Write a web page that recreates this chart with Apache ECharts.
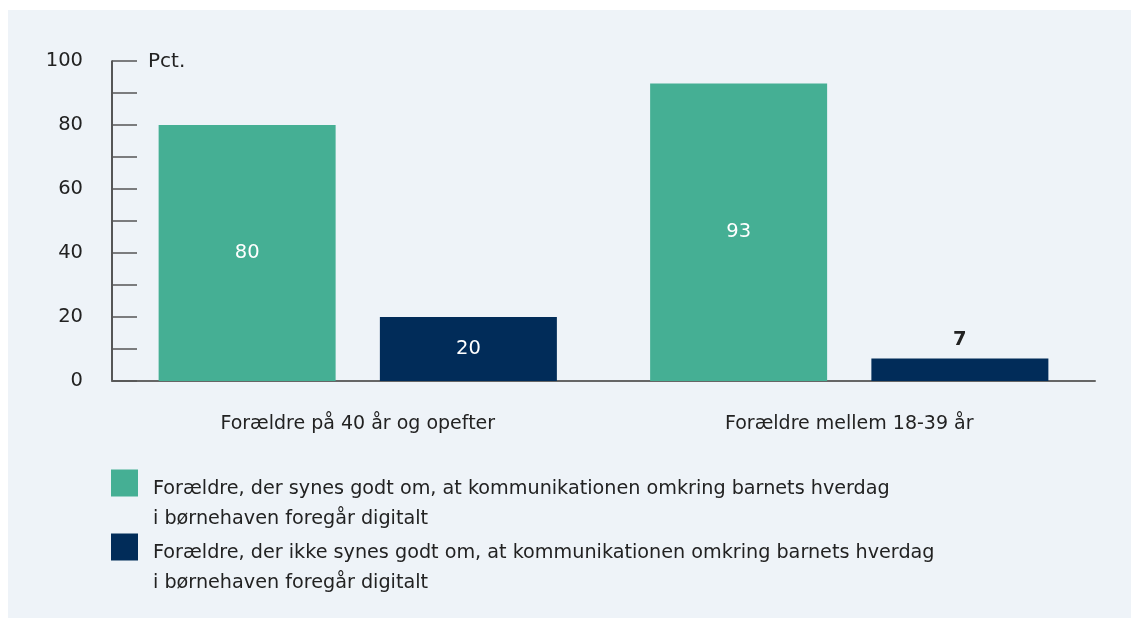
<!DOCTYPE html>
<html>
<head>
<meta charset="utf-8">
<script src="https://cdn.jsdelivr.net/npm/echarts@6/dist/echarts.min.js"></script>
<style>
  html, body { margin: 0; padding: 0; background: #ffffff; }
  #chart { position: absolute; left: 8px; top: 10px; width: 1123px; height: 608px; }
</style>
</head>
<body>
<div id="chart"></div>
<script>
const categories = ['Forældre på 40 år og opefter', 'Forældre mellem 18-39 år'];
const seriesNames = [
  'Forældre, der synes godt om, at kommunikationen omkring barnets hverdag\ni børnehaven foregår digitalt',
  'Forældre, der ikke synes godt om, at kommunikationen omkring barnets hverdag\ni børnehaven foregår digitalt'
];
const positiveValues = [80, 93];
const negativeValues = [20, 7];
const yTicks = [0, 20, 40, 60, 80, 100];

const FONT = 'DejaVu Sans';
const GREEN = '#45af94';
const NAVY = '#012c59';
const TEXT = '#222222';

let chart = echarts.init(document.getElementById('chart'));

// small bars get their label on top, in dark text
function barData(values) {
  return values.map(function (v) {
    if (v < 10) {
      return { value: v, label: { position: 'top', distance: 9, color: TEXT, fontWeight: 'bold' } };
    }
    return v;
  });
}

// legend text: an empty spacer line first so the square sits beside line one
function legendText(name) {
  return '{s| }\n' + name.split('\n').map(function (l) { return '{t|' + l + '}'; }).join('\n');
}

function legendFor(name, top) {
  return {
    data: [name],
    left: 103,
    top: top,
    padding: 0,
    orient: 'vertical',
    icon: 'rect',
    itemWidth: 27,
    itemHeight: 27,
    selectedMode: false,
    formatter: legendText,
    textStyle: {
      fontFamily: FONT,
      fontSize: 19,
      color: TEXT,
      rich: {
        s: { fontSize: 19, lineHeight: 42, padding: [0, 0, 0, 10] },
        t: { fontFamily: FONT, fontSize: 19.2, lineHeight: 30.5, color: TEXT, padding: [0, 0, 0, 10] }
      }
    }
  };
}

const option = {
  backgroundColor: '#eef3f8',
  animation: false,
  textStyle: { fontFamily: FONT },
  title: {
    text: 'Pct.',
    left: 135,
    top: 37,
    textStyle: { fontFamily: FONT, fontSize: 20, fontWeight: 'normal', color: TEXT }
  },
  grid: { left: 104, right: 36, top: 51, bottom: 237 },
  legend: [legendFor(seriesNames[0], 433), legendFor(seriesNames[1], 497)],
  xAxis: {
    type: 'category',
    data: categories,
    axisLine: { lineStyle: { color: '#666666', width: 2 } },
    axisTick: { alignWithLabel: true, inside: true, length: 6, lineStyle: { color: '#555555', width: 1.5 } },
    axisLabel: { margin: 34, fontFamily: FONT, fontSize: 19, color: TEXT }
  },
  yAxis: {
    type: 'value',
    min: 0,
    max: 100,
    interval: 10,
    axisLine: { show: true, lineStyle: { color: '#222222', width: 1.5 } },
    axisTick: { show: true, inside: true, length: 25, lineStyle: { color: '#555555', width: 1.5 } },
    splitLine: { show: false },
    axisLabel: {
      margin: 29,
      fontFamily: FONT,
      fontSize: 19.5,
      color: TEXT,
      formatter: function (v) { return yTicks.indexOf(v) >= 0 ? String(v) : ''; }
    }
  },
  series: [
    {
      name: seriesNames[0],
      type: 'bar',
      data: barData(positiveValues),
      barWidth: 177,
      barGap: '25%',
      itemStyle: { color: GREEN },
      label: { show: true, position: 'inside', color: '#ffffff', fontFamily: FONT, fontSize: 19.5 }
    },
    {
      name: seriesNames[1],
      type: 'bar',
      data: barData(negativeValues),
      barWidth: 177,
      itemStyle: { color: NAVY },
      label: { show: true, position: 'inside', color: '#ffffff', fontFamily: FONT, fontSize: 19.5 }
    }
  ]
};

chart.setOption(option);
</script>
</body>
</html>
